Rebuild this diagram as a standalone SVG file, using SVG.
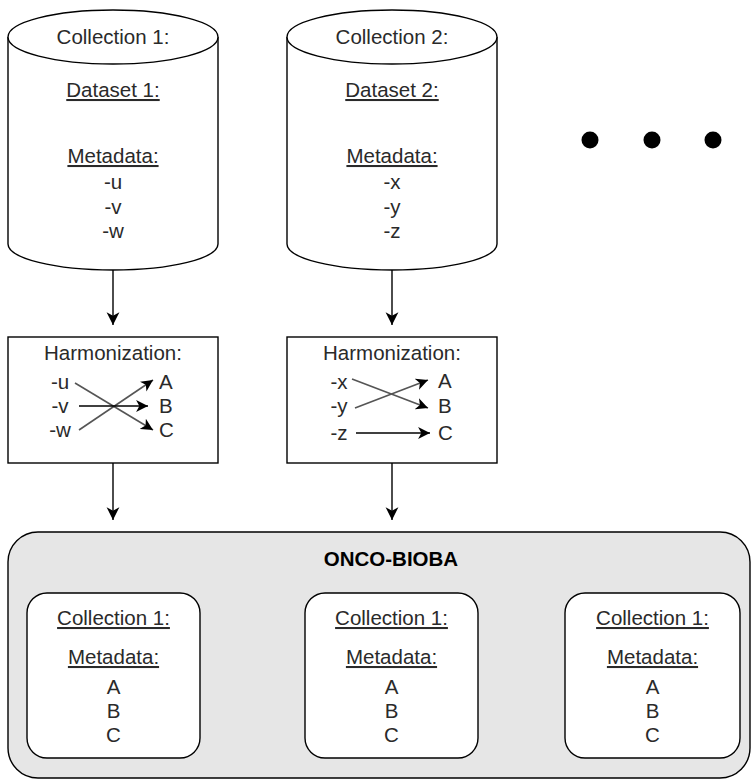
<svg xmlns="http://www.w3.org/2000/svg" width="751" height="781" viewBox="0 0 751 781">
  <defs>
    <marker id="arrow" viewBox="0 0 12 12" refX="11" refY="6" markerWidth="14" markerHeight="14" markerUnits="userSpaceOnUse" orient="auto">
      <path d="M0,0.5 L11,6 L0,11.5 L3,6 Z" fill="#000"/>
    </marker>
    <marker id="arrowS" viewBox="0 0 12 12" refX="11" refY="6" markerWidth="13" markerHeight="13" markerUnits="userSpaceOnUse" orient="auto">
      <path d="M0,0.5 L11,6 L0,11.5 L3,6 Z" fill="#000"/>
    </marker>
  </defs>
  <style>
    text { font-family: "Liberation Sans", Arial, sans-serif; font-size: 20.5px; fill: #2a2a2a; text-anchor: middle; }
    .u { text-decoration: underline; }
    .l { text-anchor: start; }
    .title { font-weight: bold; fill: #000; }
    .shape { fill: #fff; stroke: #000; stroke-width: 1.4; }
    .edge { fill: none; stroke: #000; stroke-width: 1.4; marker-end: url(#arrow); }
    .map { fill: none; stroke: #555; stroke-width: 1.6; marker-end: url(#arrowS); }
    .mapk { fill: none; stroke: #000; stroke-width: 1.6; marker-end: url(#arrowS); }
  </style>
  <rect width="751" height="781" fill="#fff"/>

  <!-- source collections -->
  <g id="collection1">
    <path class="shape" d="M8,37 A105,27 0 0 1 218,37 L218,244 A105,26 0 0 1 8,244 Z"/>
    <path class="shape" d="M8,37 A105,27 0 0 0 218,37" fill="none"/>
    <text x="113" y="44">Collection 1:</text>
    <text x="113" y="97" class="u">Dataset 1:</text>
    <text x="113" y="163" class="u">Metadata:</text>
    <text x="113" y="189">-u</text>
    <text x="113" y="214">-v</text>
    <text x="113" y="238">-w</text>
  </g>

  <g id="collection2">
    <path class="shape" d="M287,37 A105,27 0 0 1 497,37 L497,244 A105,26 0 0 1 287,244 Z"/>
    <path class="shape" d="M287,37 A105,27 0 0 0 497,37" fill="none"/>
    <text x="392" y="44">Collection 2:</text>
    <text x="392" y="97" class="u">Dataset 2:</text>
    <text x="392" y="163" class="u">Metadata:</text>
    <text x="392" y="189">-x</text>
    <text x="392" y="214">-y</text>
    <text x="392" y="238">-z</text>
  </g>

  <g id="more">
    <circle cx="590" cy="140" r="8.5" fill="#000"/>
    <circle cx="652" cy="140" r="8.5" fill="#000"/>
    <circle cx="713" cy="140" r="8.5" fill="#000"/>
  </g>

  <!-- harmonization steps -->
  <g id="harmonization1">
    <rect class="shape" x="8" y="337" width="210" height="126"/>
    <text x="113" y="360">Harmonization:</text>
    <text x="60" y="389">-u</text>
    <text x="60" y="413">-v</text>
    <text x="60" y="437">-w</text>
    <text x="159" y="389" class="l">A</text>
    <text x="159" y="413" class="l">B</text>
    <text x="159" y="437" class="l">C</text>
    <path class="map" d="M75,383 L153,430"/>
    <path class="map" d="M79,430 L153,380"/>
    <path class="mapk" d="M79,406 L148,406"/>
  </g>

  <g id="harmonization2">
    <rect class="shape" x="287" y="337" width="210" height="126"/>
    <text x="392" y="360">Harmonization:</text>
    <text x="339" y="389">-x</text>
    <text x="339" y="413">-y</text>
    <text x="339" y="440">-z</text>
    <text x="438" y="388" class="l">A</text>
    <text x="438" y="413" class="l">B</text>
    <text x="438" y="440" class="l">C</text>
    <path class="map" d="M352,379 L428,408"/>
    <path class="map" d="M355,408 L428,380"/>
    <path class="mapk" d="M356,433 L430,433"/>
  </g>

  <!-- harmonized repository -->
  <g id="onco-bioba">
    <rect x="8" y="532" width="742" height="246" rx="30" ry="30" fill="#e6e6e6" stroke="#000" stroke-width="1.4"/>
    <text x="391" y="566" class="title">ONCO-BIOBA</text>
  </g>

  <g id="target1">
    <rect class="shape" x="27" y="593" width="173" height="165" rx="20" ry="20"/>
    <text x="113.5" y="625" class="u">Collection 1:</text>
    <text x="113.5" y="664" class="u">Metadata:</text>
    <text x="113.5" y="694">A</text>
    <text x="113.5" y="718">B</text>
    <text x="113.5" y="742">C</text>
  </g>

  <g id="target2">
    <rect class="shape" x="305" y="593" width="173" height="165" rx="20" ry="20"/>
    <text x="391.5" y="625" class="u">Collection 1:</text>
    <text x="391.5" y="664" class="u">Metadata:</text>
    <text x="391.5" y="694">A</text>
    <text x="391.5" y="718">B</text>
    <text x="391.5" y="742">C</text>
  </g>

  <g id="target3">
    <rect class="shape" x="565" y="593" width="175" height="165" rx="20" ry="20"/>
    <text x="652.5" y="625" class="u">Collection 1:</text>
    <text x="652.5" y="664" class="u">Metadata:</text>
    <text x="652.5" y="694">A</text>
    <text x="652.5" y="718">B</text>
    <text x="652.5" y="742">C</text>
  </g>

  <!-- flow connectors -->
  <g id="connectors">
    <path class="edge" d="M113,270 L113,325"/>
    <path class="edge" d="M392,270 L392,325"/>
    <path class="edge" d="M113,463 L113,520"/>
    <path class="edge" d="M392,463 L392,520"/>
  </g>
</svg>
